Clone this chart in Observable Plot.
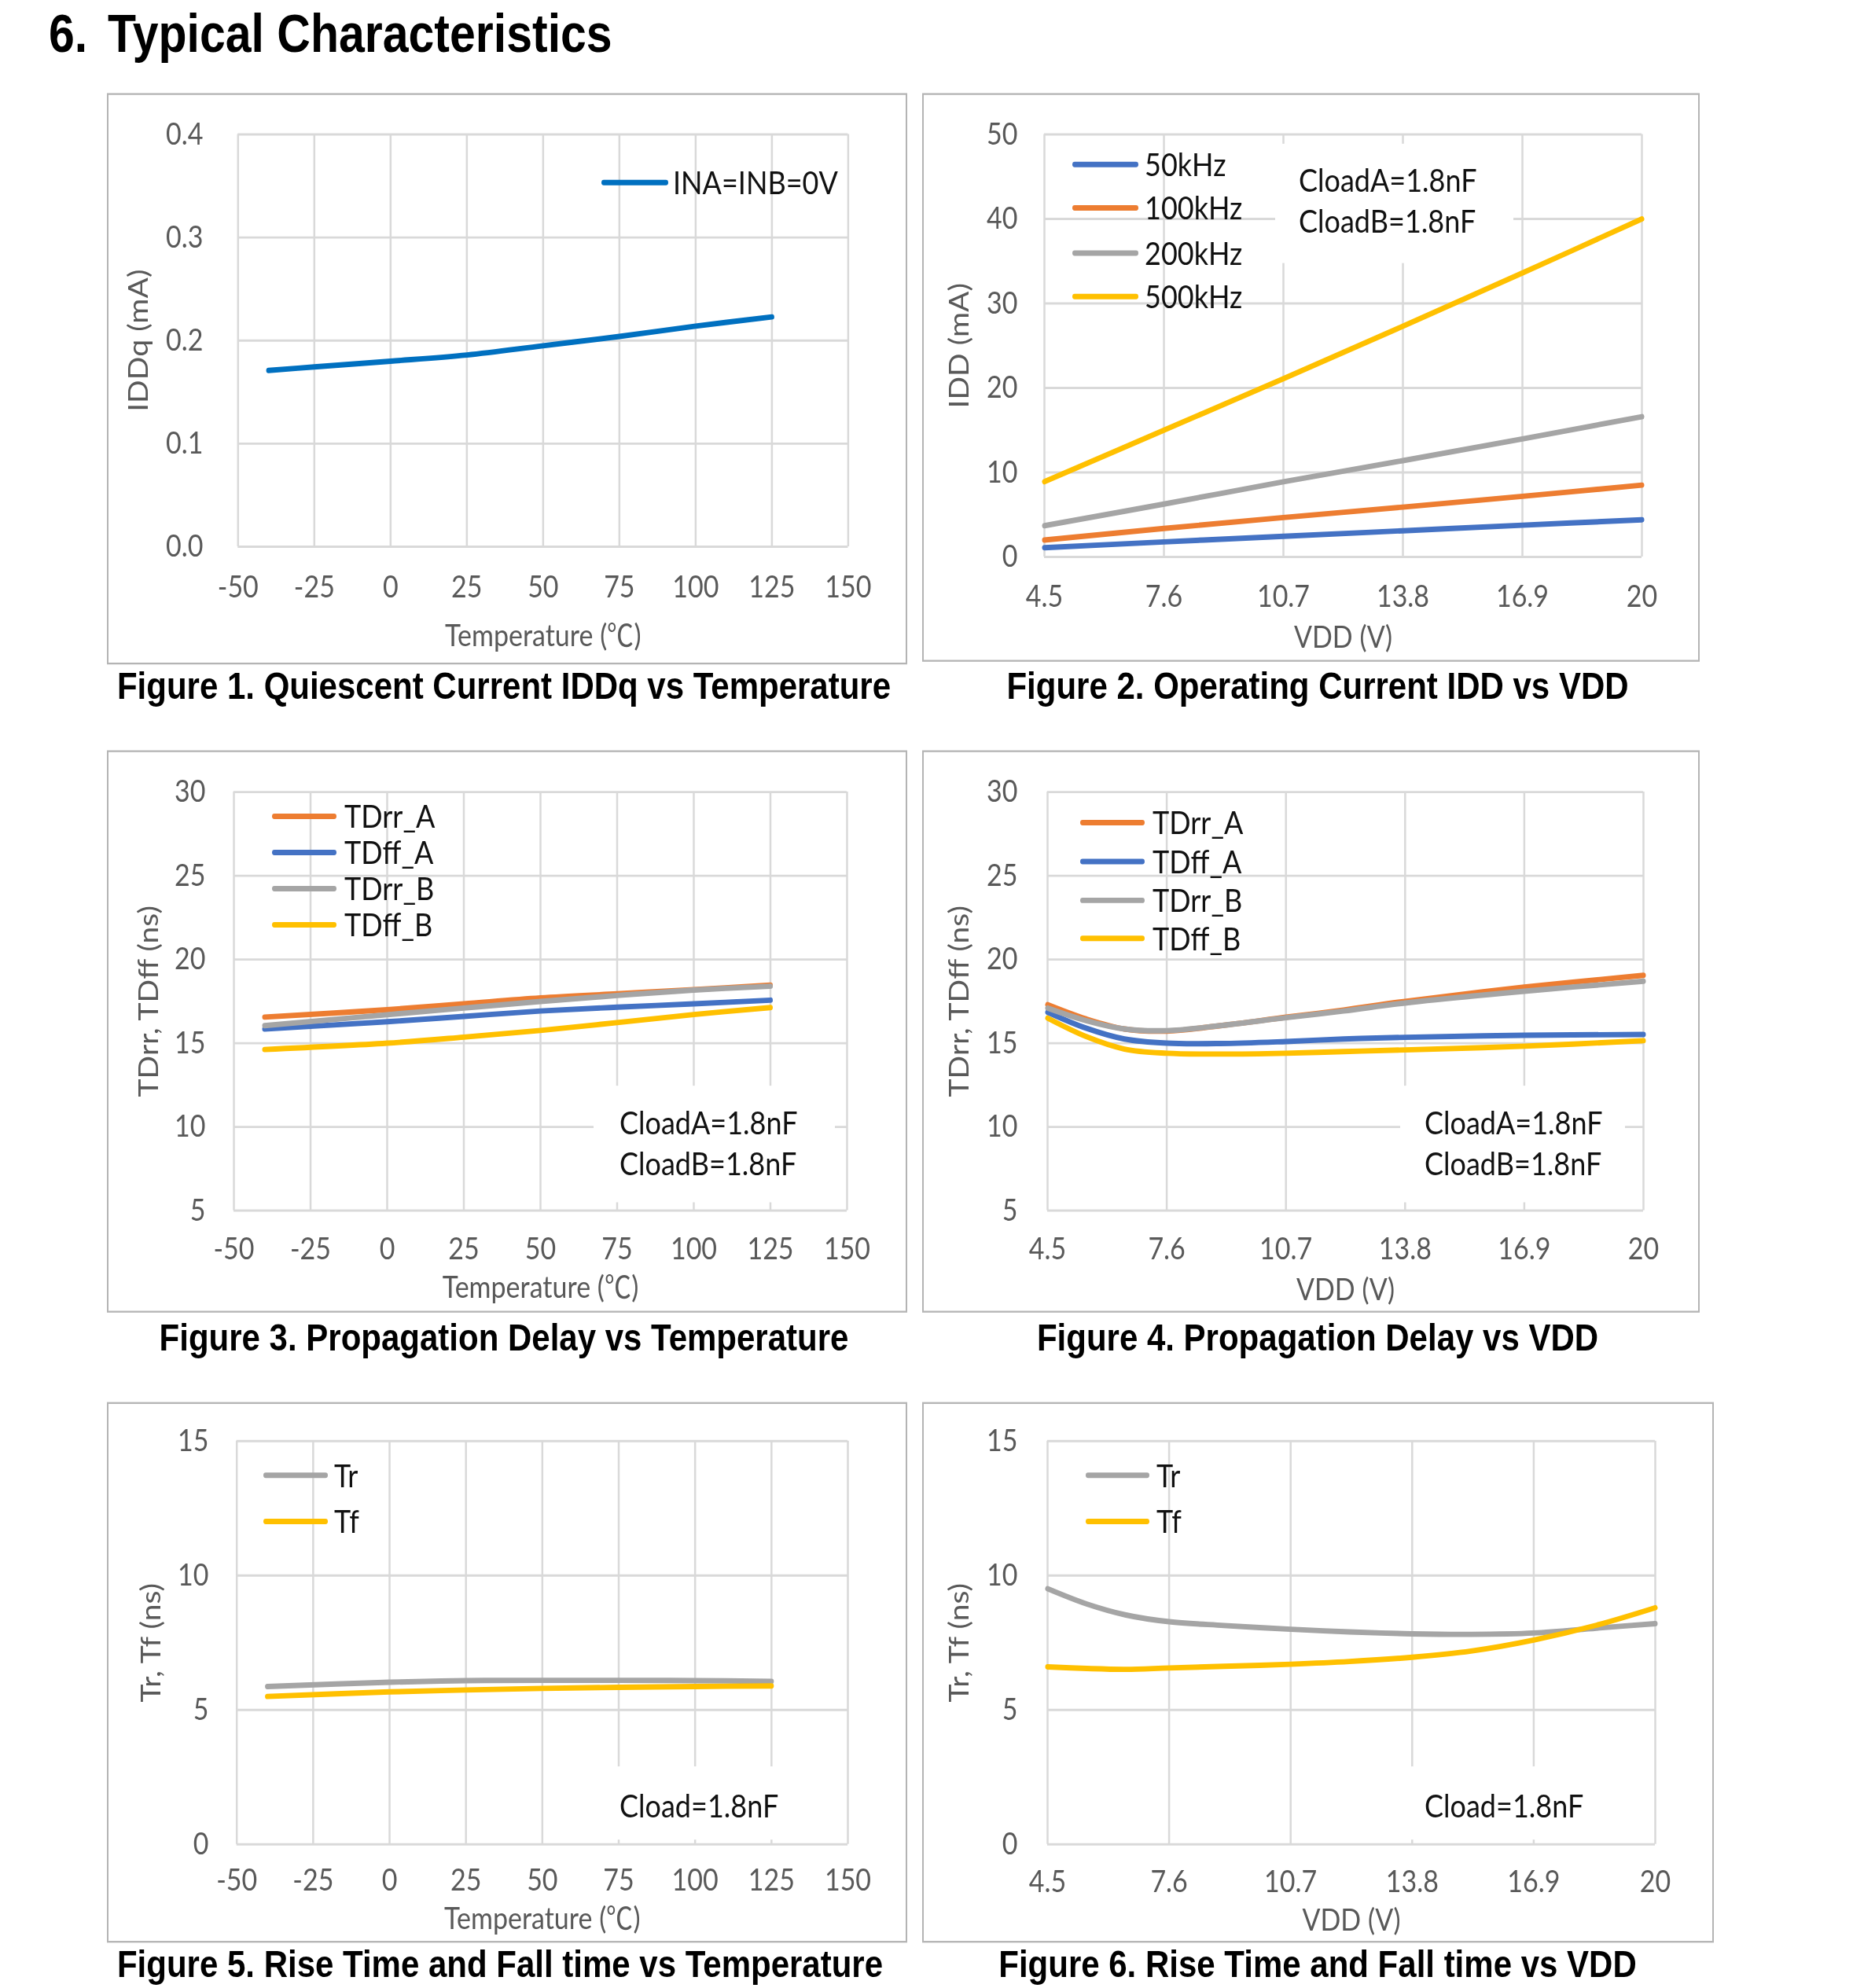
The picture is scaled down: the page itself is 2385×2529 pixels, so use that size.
<!DOCTYPE html>
<html><head><meta charset="utf-8">
<script src="https://cdn.jsdelivr.net/npm/d3@7"></script>
<script src="https://cdn.jsdelivr.net/npm/@observablehq/plot@0.6"></script>
<style>
@font-face { font-family: "CJKDeg"; src: local("Noto Sans CJK SC"), local("Noto Sans CJK SC Regular"), local("NotoSansCJKsc-Regular"); unicode-range: U+2103; }
html,body{margin:0;padding:0;background:#fff;}
#outer{position:relative;width:2385px;height:2529px;overflow:hidden;background:#fff;}
#page{position:absolute;left:0;top:0;width:2385px;transform-origin:0 0;overflow:visible;}
.abs{position:absolute;}
.bold{font-family:"Liberation Sans",Arial,sans-serif;font-weight:bold;white-space:nowrap;color:#000;}
.lg{font-family:Lato,"Noto Sans CJK SC",sans-serif;color:#111;white-space:nowrap;overflow:visible;}
</style></head><body><div id="outer"><div id="page"></div></div>
<script>
// ---------------- data ----------------
const tempTicks = [-50, -25, 0, 25, 50, 75, 100, 125, 150];
const vddTicks = [4.5, 7.6, 10.7, 13.8, 16.9, 20];

// Figure 1
const f1Temp = [-40, -25, 0, 25, 50, 75, 100, 125];
const f1IDDq = [0.171, 0.1745, 0.180, 0.186, 0.195, 0.204, 0.214, 0.223];
const f1Y = [0, 0.1, 0.2, 0.3, 0.4];

// Figure 2
const f2VDD = [4.5, 7.6, 10.7, 13.8, 16.9, 20];
const f2_50k = [1.1, 1.78, 2.45, 3.1, 3.76, 4.4];
const f2_100k = [2.0, 3.37, 4.67, 5.9, 7.18, 8.5];
const f2_200k = [3.7, 6.26, 8.9, 11.4, 13.97, 16.6];
const f2_500k = [8.9, 15.0, 21.1, 27.3, 33.6, 40.0];
const f2Y = [0, 10, 20, 30, 40, 50];

// Figure 3
const f3Temp = [-40, 0, 25, 50, 75, 100, 125];
const f3TDrrA = [16.56, 17.0, 17.35, 17.7, 17.95, 18.2, 18.47];
const f3TDffA = [15.85, 16.28, 16.6, 16.92, 17.15, 17.35, 17.57];
const f3TDrrB = [16.05, 16.7, 17.1, 17.49, 17.85, 18.17, 18.4];
const f3TDffB = [14.62, 15.0, 15.36, 15.76, 16.23, 16.71, 17.13];
const f3Y = [5, 10, 15, 20, 25, 30];

// Figure 4
const f4VDD = [4.5, 5.5, 6.5, 7.6, 9, 10.7, 12.2, 13.8, 16.9, 20];
const f4TDrrA = [17.3, 16.45, 15.85, 15.72, 16.05, 16.55, 16.98, 17.5, 18.35, 19.05];
const f4TDffA = [16.85, 15.9, 15.25, 15.0, 14.98, 15.1, 15.25, 15.35, 15.47, 15.52];
const f4TDrrB = [17.1, 16.35, 15.85, 15.75, 16.05, 16.52, 16.92, 17.4, 18.1, 18.7];
const f4TDffB = [16.5, 15.4, 14.65, 14.4, 14.35, 14.4, 14.5, 14.6, 14.82, 15.15];
const f4Y = [5, 10, 15, 20, 25, 30];

// Figure 5
const f5Temp = [-40, 0, 25, 50, 75, 100, 125];
const f5Tr = [5.87, 6.03, 6.09, 6.1, 6.1, 6.09, 6.06];
const f5Tf = [5.5, 5.67, 5.74, 5.8, 5.84, 5.87, 5.89];
const f5Y = [0, 5, 10, 15];

// Figure 6
const f6VDD = [4.5, 5.5, 6.5, 7.6, 9, 10.7, 12.2, 13.8, 15.3, 16.9, 18.5, 20];
const f6Tr = [9.51, 8.94, 8.53, 8.28, 8.14, 8.0, 7.9, 7.83, 7.81, 7.86, 8.04, 8.21];
const f6Tf = [6.6, 6.54, 6.51, 6.56, 6.62, 6.7, 6.8, 6.96, 7.19, 7.6, 8.15, 8.8];
const f6Y = [0, 5, 10, 15];

// series colours
const cBlue = "#4472C4", cOrange = "#ED7D31", cGray = "#A5A5A5", cGold = "#FFC000", cBlue1 = "#0070C0";

// text
const titleNum = "6.";
const titleText = "Typical Characteristics";
const captions = [
  "Figure 1. Quiescent Current IDDq vs Temperature",
  "Figure 2. Operating Current IDD vs VDD",
  "Figure 3. Propagation Delay vs Temperature",
  "Figure 4. Propagation Delay vs VDD",
  "Figure 5. Rise Time and Fall time vs Temperature",
  "Figure 6. Rise Time and Fall time vs VDD"
];

// ---------------- layout ----------------
const S = 1.15;          // vertical stretch of the original document
const FS = 34;           // axis font size
const LFS = 36;          // legend / note font size
const LW = 6;            // line width
const page = document.getElementById("page");
page.style.height = (2529 / S) + "px";
page.style.transform = `scaleY(${S})`;

function add(cls, css, text) {
  const d = document.createElement("div");
  d.className = "abs " + (cls || "");
  Object.assign(d.style, css);
  if (text != null) d.textContent = text;
  page.appendChild(d);
  return d;
}

function series(name, color, xs, ys) {
  return xs.map((x, i) => ({name, color, x, y: ys[i]}));
}

const fmtT = d => String(d);
const fmt1 = d3.format(".1f");

const panels = [
  {box: [136, 118, 1154, 845], plot: [302.3, 170, 1078.4, 694.5], xTicks: tempTicks, yTicks: f1Y, xFmt: fmtT, yFmt: fmt1,
   xLabel: "Temperature (℃)", yLabel: "IDDq (mA)", xTickC: 745, xLabC: 807, yLabC: 175, yTickR: 258,
   data: [...series("INA=INB=0V", cBlue1, f1Temp, f1IDDq)],
   legend: {sx: [765, 850], tx: 856, ys: [232]},
   caption: {cx: 641, base: 890}},
  {box: [1173, 118, 2162, 842], plot: [1328, 170, 2088, 707.5], xTicks: vddTicks, yTicks: f2Y, xFmt: fmtT, yFmt: fmtT,
   xLabel: "VDD (V)", yLabel: "IDD (mA)", xTickC: 757, xLabC: 809, yLabC: 1219, yTickR: 1294,
   data: [...series("50kHz", cBlue, f2VDD, f2_50k), ...series("100kHz", cOrange, f2VDD, f2_100k),
          ...series("200kHz", cGray, f2VDD, f2_200k), ...series("500kHz", cGold, f2VDD, f2_500k)],
   legend: {sx: [1364, 1448], tx: 1456, ys: [209, 265, 322, 377]},
   note: {box: [1622, 183, 1925, 335], tx: 1652, ys: [229, 281], lines: ["CloadA=1.8nF", "CloadB=1.8nF"]},
   caption: {cx: 1676, base: 890}},
  {box: [136, 954, 1154, 1670], plot: [297, 1006.5, 1077, 1539], xTicks: tempTicks, yTicks: f3Y, xFmt: fmtT, yFmt: fmtT,
   xLabel: "Temperature (℃)", yLabel: "TDrr, TDff (ns)", xTickC: 1587, xLabC: 1636, yLabC: 188, yTickR: 261,
   data: [...series("TDrr_A", cOrange, f3Temp, f3TDrrA), ...series("TDff_A", cBlue, f3Temp, f3TDffA),
          ...series("TDrr_B", cGray, f3Temp, f3TDrrB), ...series("TDff_B", cGold, f3Temp, f3TDffB)],
   legend: {sx: [346, 428], tx: 438, ys: [1038, 1084, 1130, 1176]},
   note: {box: [755, 1381, 1062, 1530], tx: 788, ys: [1428, 1480], lines: ["CloadA=1.8nF", "CloadB=1.8nF"]},
   caption: {cx: 641, base: 1719}},
  {box: [1173, 954, 2162, 1670], plot: [1332, 1006.5, 2090, 1539], xTicks: vddTicks, yTicks: f4Y, xFmt: fmtT, yFmt: fmtT,
   xLabel: "VDD (V)", yLabel: "TDrr, TDff (ns)", xTickC: 1587, xLabC: 1639, yLabC: 1219, yTickR: 1294,
   data: [...series("TDrr_A", cOrange, f4VDD, f4TDrrA), ...series("TDff_A", cBlue, f4VDD, f4TDffA),
          ...series("TDrr_B", cGray, f4VDD, f4TDrrB), ...series("TDff_B", cGold, f4VDD, f4TDffB)],
   legend: {sx: [1374, 1456], tx: 1466, ys: [1047, 1096, 1145, 1194]},
   note: {box: [1781, 1381, 2067, 1530], tx: 1812, ys: [1428, 1480], lines: ["CloadA=1.8nF", "CloadB=1.8nF"]},
   caption: {cx: 1676, base: 1719}},
  {box: [136, 1784, 1154, 2471], plot: [300.7, 1833, 1078, 2346], xTicks: tempTicks, yTicks: f5Y, xFmt: fmtT, yFmt: fmtT,
   xLabel: "Temperature (℃)", yLabel: "Tr, Tf (ns)", xTickC: 2391, xLabC: 2440, yLabC: 191, yTickR: 265,
   data: [...series("Tr", cGray, f5Temp, f5Tr), ...series("Tf", cGold, f5Temp, f5Tf)],
   legend: {sx: [335, 417], tx: 425, ys: [1877, 1936]},
   note: {box: [760, 2247, 1046, 2340], tx: 788, ys: [2297], lines: ["Cload=1.8nF"]},
   caption: {cx: 636, base: 2516}},
  {box: [1173, 1784, 2180, 2471], plot: [1332, 1833, 2105, 2346], xTicks: vddTicks, yTicks: f6Y, xFmt: fmtT, yFmt: fmtT,
   xLabel: "VDD (V)", yLabel: "Tr, Tf (ns)", xTickC: 2393, xLabC: 2442, yLabC: 1219, yTickR: 1294,
   data: [...series("Tr", cGray, f6VDD, f6Tr), ...series("Tf", cGold, f6VDD, f6Tf)],
   legend: {sx: [1381, 1462], tx: 1471, ys: [1877, 1936]},
   note: {box: [1781, 2247, 2075, 2340], tx: 1812, ys: [2297], lines: ["Cload=1.8nF"]},
   caption: {cx: 1676, base: 2516}}
];

// ---------------- title ----------------
const TFS = 59;
add("bold", {left: "62px", top: (67 / S - 0.8465 * TFS) + "px", fontSize: TFS + "px", lineHeight: TFS + "px"}, titleNum);
add("bold", {left: "137px", top: (67 / S - 0.8465 * TFS) + "px", fontSize: TFS + "px", lineHeight: TFS + "px"}, titleText);

// ---------------- panels ----------------
panels.forEach((p, i) => {
  const [bx0, by0, bx1, by1] = p.box;
  const [px0, py0, px1, py1] = p.plot;
  const W = bx1 - bx0, H = (by1 - by0) / S;
  const holder = add("", {left: bx0 + "px", top: (by0 / S) + "px", width: W + "px", height: H + "px"});
  const gridStyle = {stroke: "#d9d9d9", strokeOpacity: 1, strokeWidth: 2.5};
  const names = [...new Set(p.data.map(d => d.name))];
  const chart = Plot.plot({
    width: W, height: H,
    marginLeft: px0 - bx0, marginRight: bx1 - px1,
    marginTop: (py0 - by0) / S, marginBottom: (by1 - py1) / S,
    x: {domain: [p.xTicks[0], p.xTicks[p.xTicks.length - 1]]},
    y: {domain: [p.yTicks[0], p.yTicks[p.yTicks.length - 1]]},
    style: {fontFamily: 'CJKDeg, Lato, "Noto Sans CJK SC", sans-serif', fontSize: FS + "px", color: "#595959",
            background: "transparent", overflow: "visible"},
    marks: [
      Plot.gridX(p.xTicks, gridStyle),
      Plot.gridY(p.yTicks, gridStyle),
      Plot.axisX(p.xTicks, {tickSize: 0, tickPadding: (p.xTickC - py1) / S - 0.35 * FS, tickFormat: p.xFmt,
        fontSize: FS, label: p.xLabel, labelAnchor: "center", labelArrow: "none",
        labelOffset: (p.xLabC - py1) / S + 0.36 * FS}),
      Plot.axisY(p.yTicks, {tickSize: 0, tickPadding: px0 - p.yTickR, tickFormat: p.yFmt,
        fontSize: FS, label: p.yLabel, labelAnchor: "center", labelArrow: "none",
        labelOffset: px0 - p.yLabC + 0.35 * FS}),
      Plot.line(p.data, {x: "x", y: "y", z: "name", stroke: "color", strokeWidth: LW,
        curve: "catmull-rom", strokeLinecap: "round", strokeLinejoin: "round"})
    ]
  });
  holder.appendChild(chart);
  // border
  add("", {left: bx0 + "px", top: (by0 / S) + "px", width: W + "px", height: H + "px",
           border: "2px solid #b4b4b4", boxSizing: "border-box"});
  // legend
  const lg = p.legend;
  names.forEach((n, k) => {
    const col = p.data.find(d => d.name === n).color;
    const yc = lg.ys[k] / S;
    add("", {left: lg.sx[0] + "px", top: (yc - LW / 2) + "px", width: (lg.sx[1] - lg.sx[0]) + "px", height: LW + "px",
             background: col, borderRadius: "3px"});
    add("lg", {left: lg.tx + "px", top: (yc - LFS * 0.53) + "px", height: LFS + "px", fontSize: LFS + "px",
               lineHeight: LFS + "px"}, n);
  });
  // note
  if (p.note) {
    const nb = p.note.box;
    add("", {left: nb[0] + "px", top: (nb[1] / S) + "px", width: (nb[2] - nb[0]) + "px",
             height: ((nb[3] - nb[1]) / S) + "px", background: "#fff"});
    p.note.lines.forEach((t, k) => {
      add("lg", {left: p.note.tx + "px", top: (p.note.ys[k] / S - LFS * 0.53) + "px", height: LFS + "px",
                 fontSize: LFS + "px", lineHeight: LFS + "px"}, t);
    });
  }
  // caption
  const CFS = 42;
  add("bold", {left: (p.caption.cx - 700) + "px", width: "1400px", textAlign: "center",
    top: (p.caption.base / S - 0.8465 * CFS) + "px", fontSize: CFS + "px", lineHeight: CFS + "px"}, captions[i]);
});
</script></body></html>
